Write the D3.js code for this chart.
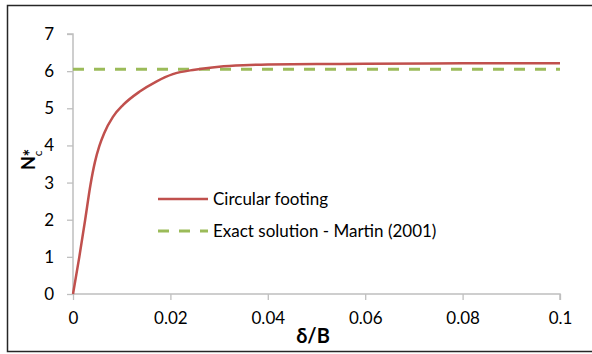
<!DOCTYPE html>
<html>
<head>
<meta charset="utf-8">
<script src="https://cdn.jsdelivr.net/npm/d3@7"></script>
<style>
  html, body { margin: 0; padding: 0; background: #fff; }
  svg { display: block; font-family: Lato, "Open Sans", sans-serif; }
</style>
</head>
<body>
<svg id="chart" width="592" height="354"></svg>
<script>
// Normalised settlement δ/B and bearing factor Nc* for the circular footing
const settlement = [0, 0.0013, 0.0025, 0.0036, 0.0045, 0.0054, 0.0064, 0.0082, 0.0103, 0.0137, 0.0171, 0.0205, 0.025, 0.03, 0.035, 0.04, 0.05, 0.06, 0.08, 0.1];
const bearing    = [0, 1, 2, 2.95, 3.55, 3.98, 4.33, 4.77, 5.09, 5.45, 5.72, 5.92, 6.04, 6.12, 6.16, 6.18, 6.19, 6.2, 6.21, 6.21];
// Exact solution (Martin, 2001)
const exactValue = 6.05;
const exactRange = [0, 0.1];

const xTicks = [0, 0.02, 0.04, 0.06, 0.08, 0.1];
const yTicks = [0, 1, 2, 3, 4, 5, 6, 7];
const seriesNames = ["Circular footing", "Exact solution - Martin (2001)"];

const red = "#c0504d", green = "#9bbb59", axisGrey = "#bfbfbf";

const svg = d3.select("#chart");

// frame around the chart area
svg.append("rect")
  .attr("x", 7.5).attr("y", 5.5).attr("width", 600).attr("height", 346)
  .attr("fill", "none").attr("stroke", "#262626").attr("stroke-width", 1.5);

const x = d3.scaleLinear().domain([0, 0.1]).range([73, 560]);
const y = d3.scaleLinear().domain([0, 7]).range([294, 34]);

// y axis
const yAxis = svg.append("g").attr("transform", `translate(${x(0)},0)`)
  .call(d3.axisLeft(y).tickValues(yTicks).tickFormat(d3.format("d")).tickSize(6).tickPadding(13));
// x axis
const xAxis = svg.append("g").attr("transform", `translate(0,${y(0)})`)
  .call(d3.axisBottom(x).tickValues(xTicks).tickFormat(d => d === 0 ? "0" : String(d)).tickSize(6).tickPadding(12));

[xAxis, yAxis].forEach(g => {
  g.select(".domain").attr("stroke", axisGrey).attr("stroke-width", 1.5);
  g.selectAll(".tick line").attr("stroke", axisGrey).attr("stroke-width", 1.3);
  g.selectAll(".tick text").attr("fill", "#000").style("font-size", "17px").style("font-family", "Lato, 'Open Sans', sans-serif");
});
yAxis.select(".domain").attr("d", `M-6,${y(7)}H0V${y(0)}`);
xAxis.select(".domain").attr("d", `M${x(0)},0H${x(0.1)}V6`);

// exact solution, dashed
svg.append("line")
  .attr("x1", x(exactRange[0])).attr("x2", x(exactRange[1]))
  .attr("y1", y(exactValue)).attr("y2", y(exactValue))
  .attr("stroke", green).attr("stroke-width", 3)
  .attr("stroke-dasharray", "11,10");

// circular footing curve
const pts = settlement.map((d, i) => [d, bearing[i]]);
svg.append("path")
  .datum(pts)
  .attr("fill", "none").attr("stroke", red).attr("stroke-width", 2.5)
  .attr("d", d3.line().x(d => x(d[0])).y(d => y(d[1])).curve(d3.curveMonotoneX));

// legend
const legend = svg.append("g").attr("transform", "translate(158,199)");
legend.append("line").attr("x1", 0).attr("x2", 50).attr("y1", 0).attr("y2", 0)
  .attr("stroke", red).attr("stroke-width", 2.5);
legend.append("line").attr("x1", 0).attr("x2", 50).attr("y1", 32).attr("y2", 32)
  .attr("stroke", green).attr("stroke-width", 3).attr("stroke-dasharray", "11,10");
legend.selectAll("text.lbl").data(seriesNames).enter().append("text")
  .attr("class", "lbl")
  .attr("x", 55).attr("y", (d, i) => i * 32 + 6)
  .style("font-size", "17px").attr("fill", "#000")
  .text(d => d);

// axis titles
svg.append("text")
  .attr("x", 313).attr("y", 343).attr("text-anchor", "middle")
  .style("font-size", "20px").style("font-weight", "bold")
  .text("δ/B");

const yt = svg.append("text")
  .attr("transform", "translate(35,170) rotate(-90)")
  .style("font-size", "18px").style("font-weight", "bold");
yt.append("tspan").text("N");
yt.append("tspan").attr("dy", 7).style("font-size", "12px").style("font-weight", "normal").text("c");
yt.append("tspan").attr("dy", -5).attr("dx", -6).style("font-size", "18px").text("*");
</script>
</body>
</html>
